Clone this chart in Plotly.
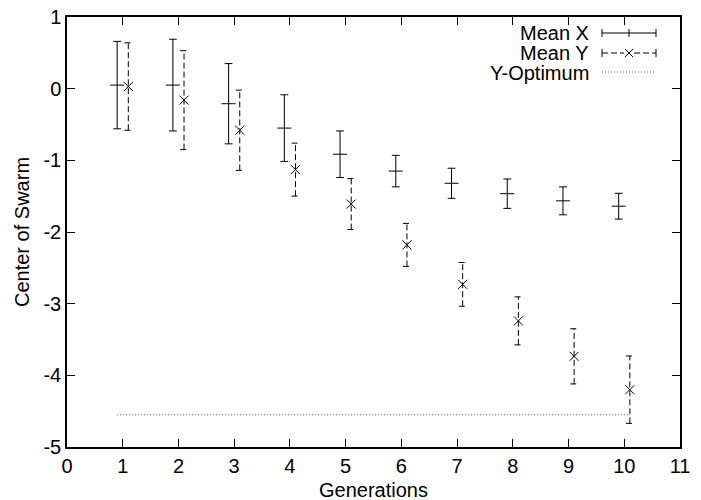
import plotly.graph_objects as go

# Swarm centre per generation: mean and spread of the X and Y coordinates
generations = [1, 2, 3, 4, 5, 6, 7, 8, 9, 10]
mean_x = [0.05, 0.05, -0.21, -0.55, -0.915, -1.15, -1.32, -1.465, -1.565, -1.64]
err_x = [0.61, 0.64, 0.56, 0.465, 0.325, 0.22, 0.21, 0.205, 0.195, 0.18]
mean_y = [0.03, -0.16, -0.58, -1.13, -1.61, -2.18, -2.73, -3.24, -3.735, -4.20]
err_y = [0.61, 0.69, 0.56, 0.37, 0.355, 0.30, 0.305, 0.335, 0.385, 0.47]
y_optimum = -4.55

x_ticks = [0, 1, 2, 3, 4, 5, 6, 7, 8, 9, 10, 11]
x_tick_labels = ["0", "1", "2", "3", "4", "5", "6", "7", "8", "9", "10", "11"]
y_ticks = [-5, -4, -3, -2, -1, 0, 1]
y_tick_labels = ["-5", "-4", "-3", "-2", "-1", "0", "1"]

OFFSET = 0.1       # horizontal shift so the two series sit side by side
CAP = 0.07         # half width of the error bar caps
FONT = "Liberation Sans, Arial, sans-serif"
FS = 20


def error_segments(xs, centres, errs):
    """Vertical bars with caps, separated by None so one trace holds them all."""
    px, py = [], []
    for x, c, e in zip(xs, centres, errs):
        lo, hi = c - e, c + e
        px += [x, x, None, x - CAP, x + CAP, None, x - CAP, x + CAP, None]
        py += [lo, hi, None, lo, lo, None, hi, hi, None]
    return px, py


xs_x = [g - OFFSET for g in generations]
xs_y = [g + OFFSET for g in generations]

fig = go.Figure()

bx, by = error_segments(xs_x, mean_x, err_x)
fig.add_trace(go.Scatter(x=bx, y=by, mode="lines", line=dict(color="black", width=1),
                         hoverinfo="skip", showlegend=False))
fig.add_trace(go.Scatter(x=xs_x, y=mean_x, mode="markers", name="Mean X",
                         marker=dict(symbol="line-ew", size=10,
                                     line=dict(color="black", width=1)),
                         showlegend=False))

bx, by = error_segments(xs_y, mean_y, err_y)
fig.add_trace(go.Scatter(x=bx, y=by, mode="lines",
                         line=dict(color="black", width=1, dash="6px,3px"),
                         hoverinfo="skip", showlegend=False))
fig.add_trace(go.Scatter(x=xs_y, y=mean_y, mode="markers", name="Mean Y",
                         marker=dict(symbol="x-thin", size=9,
                                     line=dict(color="black", width=1)),
                         showlegend=False))

fig.add_trace(go.Scatter(x=[xs_x[0], xs_y[-1]], y=[y_optimum, y_optimum], mode="lines",
                         name="Y-Optimum",
                         line=dict(color="#555555", width=1, dash="1px,2px"),
                         showlegend=False))

# Plot area geometry in pixels (used to place the key and axis titles)
W, H = 701, 500
L, R, T, B = 67, 21, 17, 53
PW, PH = W - L - R, H - T - B


def px_x(p):
    return (p - L) / PW


def px_y(p):
    return (H - B - p) / PH


shapes = []
annotations = []

# Axis titles
annotations.append(dict(x=0.5, y=px_y(490), xref="paper", yref="paper",
                        text="Generations", showarrow=False,
                        xanchor="center", yanchor="middle",
                        font=dict(family=FONT, size=FS, color="black")))
annotations.append(dict(x=px_x(22), y=0.5, xref="paper", yref="paper",
                        text="Center of Swarm", showarrow=False, textangle=-90,
                        xanchor="center", yanchor="middle",
                        font=dict(family=FONT, size=FS, color="black")))

# Key in the upper right: label on the left, line sample on the right.
# The middle row gets a tighter text box so the three rows stay packed closely.
key_rows = [("Mean X", 32.7, None), ("Mean Y", 53, 16), ("Y-Optimum", 72.5, None)]
text_right, s0, s1 = 590, 602, 656
mid = (s0 + s1) / 2
for label, yy, hgt in key_rows:
    ann = dict(x=px_x(text_right), y=px_y(yy), xref="paper", yref="paper",
               text=label, showarrow=False, xanchor="right", yanchor="middle",
               borderpad=0, font=dict(family=FONT, size=FS, color="black"))
    if hgt:
        ann["height"] = hgt
    annotations.append(ann)


def seg(x0, y0, x1, y1, dash="solid", color="black"):
    shapes.append(dict(type="line", xref="paper", yref="paper",
                       x0=px_x(x0), y0=px_y(y0), x1=px_x(x1), y1=px_y(y1),
                       line=dict(color=color, width=1, dash=dash)))


# Mean X sample
y0 = 33
seg(s0, y0, s1, y0)
seg(s0, y0 - 4, s0, y0 + 4)
seg(s1, y0 - 4, s1, y0 + 4)
seg(mid, y0 - 4, mid, y0 + 4)
# Mean Y sample
y1 = 53
seg(s0, y1, mid - 5, y1, dash="6px,3px")
seg(mid + 5, y1, s1, y1, dash="6px,3px")
seg(s0, y1 - 4, s0, y1 + 4)
seg(s1, y1 - 4, s1, y1 + 4)
seg(mid - 4, y1 - 4, mid + 4, y1 + 4)
seg(mid - 4, y1 + 4, mid + 4, y1 - 4)
# Y-Optimum sample
y2 = 72
seg(s0, y2, s1, y2, dash="1px,2px", color="#555555")

axis_common = dict(showgrid=False, zeroline=False, showline=True, linecolor="black",
                   linewidth=1.5, mirror="ticks", ticks="inside", ticklen=8,
                   tickwidth=1, tickcolor="black", automargin=False,
                   tickfont=dict(family=FONT, size=FS, color="black"))

fig.update_layout(
    width=W, height=H,
    margin=dict(l=L, r=R, t=T, b=B),
    paper_bgcolor="white", plot_bgcolor="white",
    shapes=shapes, annotations=annotations,
    xaxis=dict(range=[0, 11], tickmode="array", tickvals=x_ticks, ticktext=x_tick_labels,
               **axis_common),
    yaxis=dict(range=[-5, 1], tickmode="array", tickvals=y_ticks, ticktext=y_tick_labels,
               **axis_common),
)

fig.write_html("out.html")
